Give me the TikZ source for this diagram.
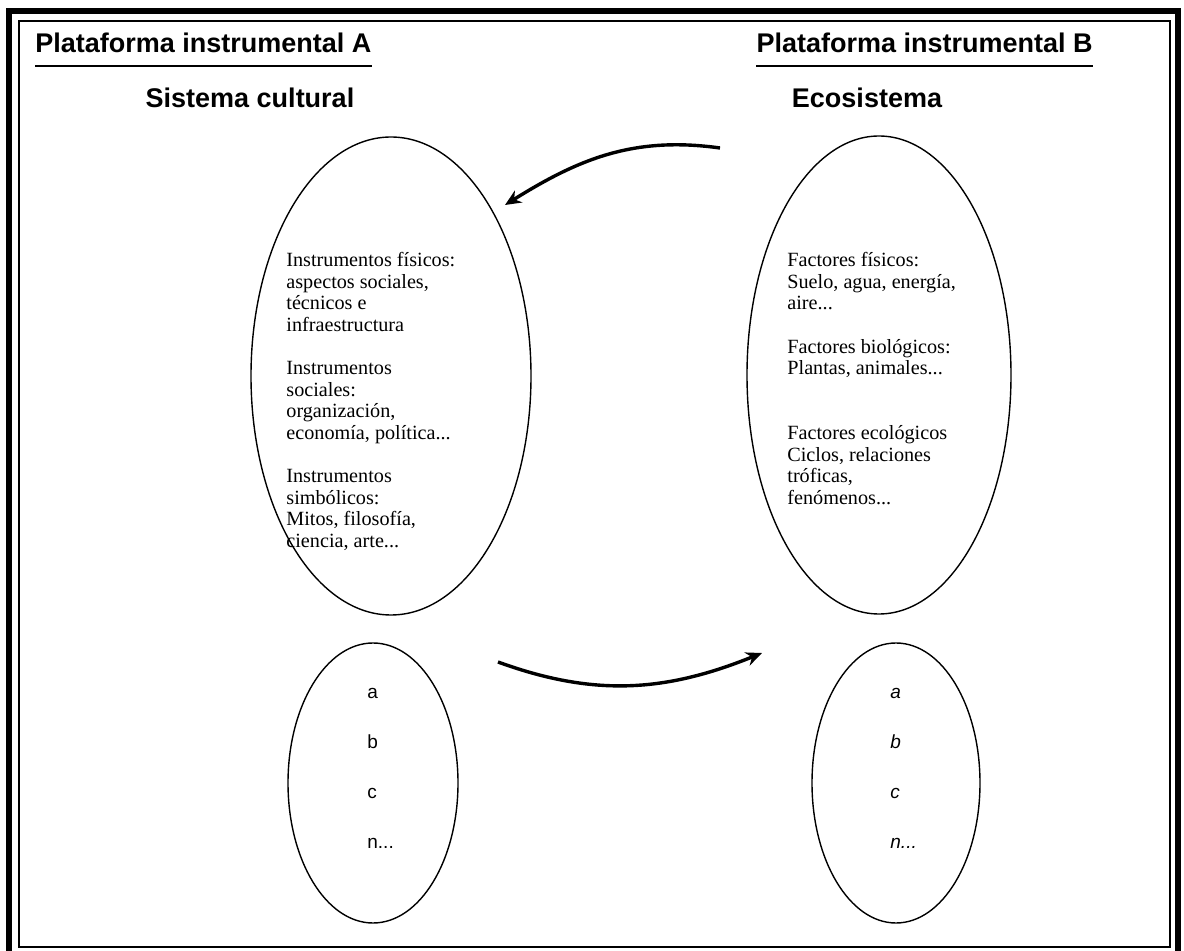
\documentclass[tikz,border=0pt]{standalone}
\usepackage{fontspec}
\setmainfont{Liberation Serif}
\setsansfont{Liberation Sans}
\usetikzlibrary{shapes.geometric,arrows.meta}

\begin{document}
\begin{tikzpicture}[x=0.5pt,y=0.5pt,
    oval/.style={draw, ellipse, line width=0.7pt, inner sep=0pt},
    title/.style={font=\sffamily\bfseries\fontsize{13.5}{16}\selectfont, inner sep=0pt},
    body/.style={font=\fontsize{10.1}{10.8}\selectfont, align=left, inner sep=0pt, anchor=north west},
    letters/.style={font=\sffamily\fontsize{9.5}{25}\selectfont, align=left, inner sep=0pt, anchor=north west},
    flow/.style={line width=1.7pt, -{Stealth[length=8pt,width=7pt]}}]
    \useasboundingbox (0,0) rectangle (1184,-951);

    % Frame
    \draw[line width=2.6pt] (9,-11) rectangle (1178,-960);
    \draw[line width=0.8pt] (19,-21) rectangle (1170,-947);

    % Headings
    \node[title, anchor=base west] (platA) at (35,-53) {Plataforma instrumental A};
    \node[title, anchor=base east] (platB) at (1093,-53) {Plataforma instrumental B};
    \draw[line width=1.4pt] ([yshift=-6.5pt]platA.base west) -- ([yshift=-6.5pt]platA.base east);
    \draw[line width=1.4pt] ([yshift=-6.5pt]platB.base west) -- ([yshift=-6.5pt]platB.base east);
    \node[title, anchor=base] (cultura) at (250,-108) {Sistema cultural};
    \node[title, anchor=base] (eco) at (867,-108) {Ecosistema};

    % Big ellipses
    \node[oval, minimum width=140pt, minimum height=239pt] (ovalA) at (391,-376) {};
    \node[oval, minimum width=132pt, minimum height=239pt] (ovalB) at (879,-375) {};
    \node[body] (textA) at (286,-252) {Instrumentos físicos:\\aspectos sociales,\\técnicos e\\infraestructura\\[10.8pt]
        Instrumentos\\sociales:\\organización,\\economía, política...\\[10.8pt]
        Instrumentos\\simbólicos:\\Mitos, filosofía,\\ciencia, arte...};
    \node[body] (textB) at (787,-252) {Factores físicos:\\Suelo, agua, energía,\\aire...\\[10.8pt]
        Factores biológicos:\\Plantas, animales...\\[21.6pt]
        Factores ecológicos\\Ciclos, relaciones\\tróficas,\\fenómenos...};

    % Small ellipses
    \node[oval, minimum width=85pt, minimum height=140pt] (smallA) at (373,-783) {};
    \node[oval, minimum width=84pt, minimum height=140pt] (smallB) at (896,-783) {};
    \node[letters] (listA) at (367,-688) {a\\b\\c\\n...};
    \node[letters, font=\sffamily\itshape\fontsize{9.5}{25}\selectfont] (listB) at (890,-688) {a\\b\\c\\n...};

    % Curved arrows
    \coordinate (topStart) at (720,-148);
    \coordinate (topEnd) at (505,-205);
    \coordinate (lowStart) at (498,-662);
    \coordinate (lowEnd) at (762,-653);
    \draw[flow] (topStart) to[out=172, in=32] (topEnd);
    \draw[flow] (lowStart) to[out=-20, in=202] (lowEnd);
\end{tikzpicture}
\end{document}
